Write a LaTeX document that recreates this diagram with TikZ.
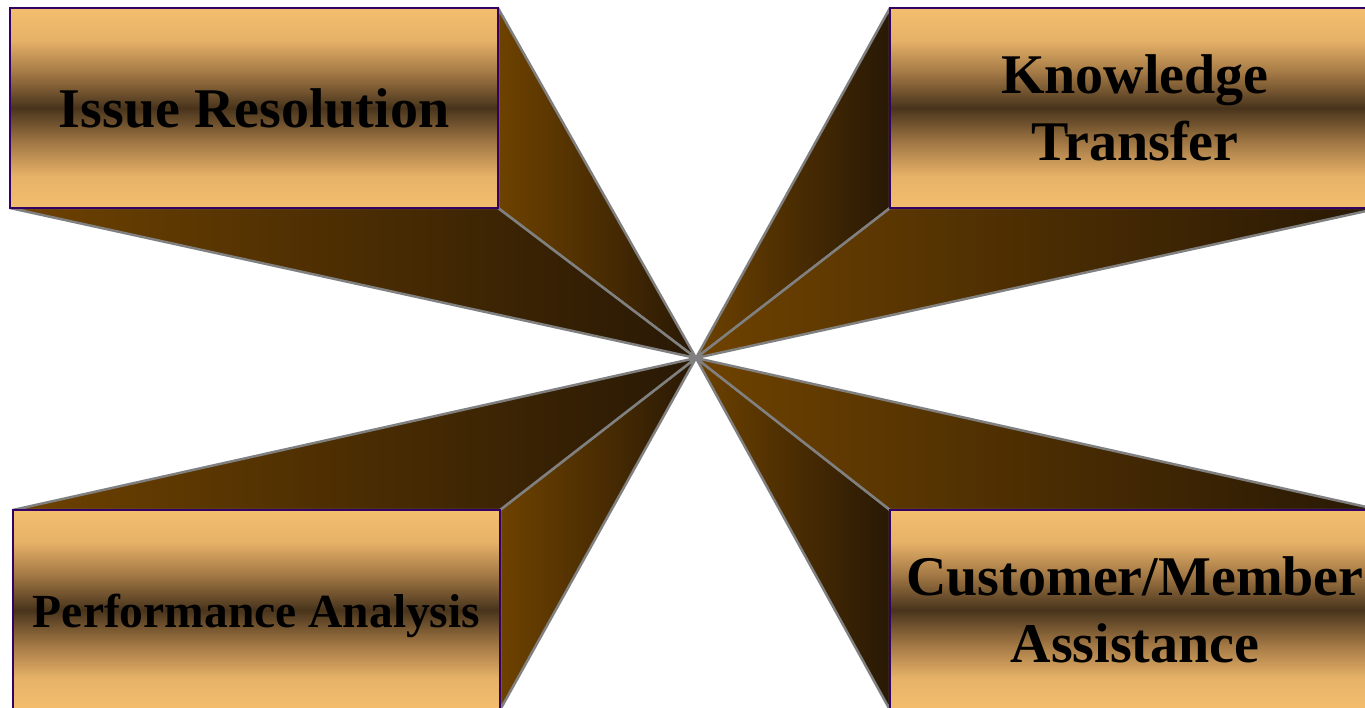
\documentclass[tikz,border=0pt]{standalone}
\usepackage{fontspec}
\setmainfont{Liberation Serif}
\usetikzlibrary{backgrounds}

\definecolor{barlight}{RGB}{244,190,110}
\definecolor{barsoft}{RGB}{230,178,104}
\definecolor{barmid}{RGB}{165,122,70}
\definecolor{bardark}{RGB}{72,52,28}
\definecolor{boxedge}{RGB}{51,0,102}
\definecolor{raylight}{RGB}{110,66,0}
\definecolor{raydark}{RGB}{40,24,5}
\definecolor{rayedge}{RGB}{128,128,128}

\pgfdeclareverticalshading{goldbar}{100bp}{color(0bp)=(barlight); color(25bp)=(barlight);
  color(33bp)=(barsoft); color(41bp)=(barmid); color(50bp)=(bardark); color(59bp)=(barmid);
  color(67bp)=(barsoft); color(75bp)=(barlight); color(100bp)=(barlight)}

\begin{document}
\begin{tikzpicture}[x=1pt, y=-1pt,
  box/.style={draw=boxedge, line width=2.5pt, outer sep=0pt, inner sep=0pt,
    minimum width=488pt, minimum height=200pt, shade, shading=goldbar,
    align=center, font=\bfseries\fontsize{56}{66.5}\selectfont},
  ray/.style={draw=rayedge, line width=2.5pt, line join=round,
    left color=raylight, right color=raydark}]
\useasboundingbox (0,0) rectangle (1365,708);
\clip (0,0) rectangle (1365,708);

\coordinate (hub) at (696,358);

\node[box] (issue) at (254,108) {Issue Resolution};
\node[box, minimum width=490pt] (knowledge) at (1135,108) {Knowledge\\Transfer};
\node[box, minimum width=487pt, text height=44pt, text depth=10pt,
  font=\bfseries\fontsize{47.5}{56}\selectfont]
  (perf) at (256.5,610) {Performance Analysis};
\node[box, minimum width=490pt] (assist) at (1135,610) {Customer/Member\\Assistance};

\begin{scope}[on background layer]
  % rays from the inner edges of each box to the hub
  \path[ray] (issue.north east) -- (issue.south east) -- (hub) -- cycle;
  \path[ray] (issue.south west) -- (issue.south east) -- (hub) -- cycle;
  \path[ray] (knowledge.north west) -- (knowledge.south west) -- (hub) -- cycle;
  \path[ray] (knowledge.south west) -- (knowledge.south east) -- (hub) -- cycle;
  \path[ray] (perf.north east) -- (perf.south east) -- (hub) -- cycle;
  \path[ray] (perf.north west) -- (perf.north east) -- (hub) -- cycle;
  \path[ray] (assist.north west) -- (assist.south west) -- (hub) -- cycle;
  \path[ray] (assist.north west) -- (assist.north east) -- (hub) -- cycle;
\end{scope}
\end{tikzpicture}
\end{document}
